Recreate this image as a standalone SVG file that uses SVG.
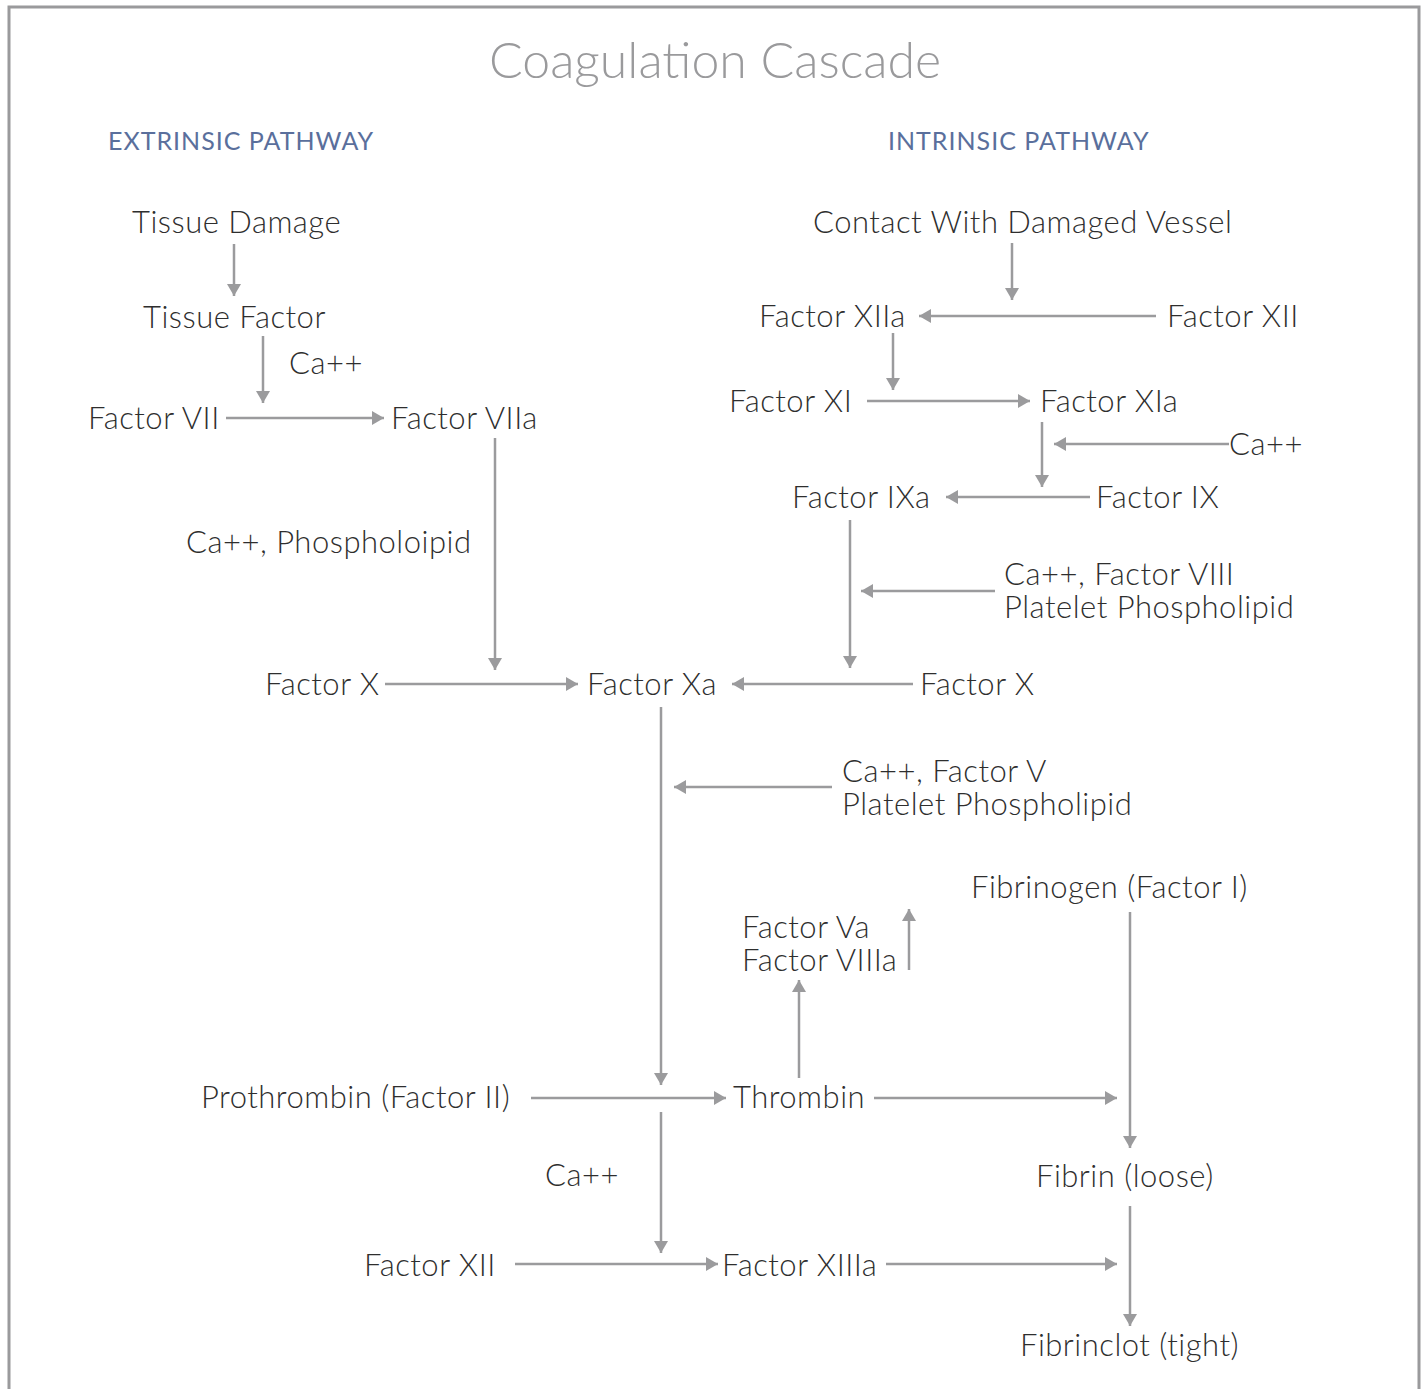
<svg xmlns="http://www.w3.org/2000/svg" width="1426" height="1389" viewBox="0 0 1426 1389">
<style>
.t{font-family:Lato,"Open Sans","Liberation Sans",sans-serif;font-weight:300;font-size:31px;letter-spacing:0.5px;fill:#2e2e2e}
.h{font-family:Lato,"Open Sans","Liberation Sans",sans-serif;font-size:25px;letter-spacing:1px;fill:#5a6f9c}
.title{font-family:Lato,"Open Sans","Liberation Sans",sans-serif;font-weight:300;font-size:50px;fill:#9a9a9c}
.c line{stroke:#9b9b9d;stroke-width:2.5;fill:none;marker-end:url(#ah)}
</style>
<defs>
<marker id="ah" markerUnits="userSpaceOnUse" markerWidth="14" markerHeight="16" refX="12" refY="7" orient="auto" viewBox="0 0 14 14">
<path d="M0,0 L12,7 L0,14 Z" fill="#9b9b9d"/>
</marker>
</defs>
<rect width="1426" height="1389" fill="#fff"/>
<path d="M9,1389 V7 H1419 V1389" fill="none" stroke="#9a9a9c" stroke-width="3"/>
<text class="title" x="715" y="78" text-anchor="middle">Coagulation Cascade</text>
<text class="h" x="108" y="150">EXTRINSIC PATHWAY</text>
<text class="h" x="888" y="150">INTRINSIC PATHWAY</text>

<g id="tissue-damage"><text class="t" x="132" y="233">Tissue Damage</text></g>
<g id="tissue-factor"><text class="t" x="143" y="328">Tissue Factor</text></g>
<g id="ca1"><text class="t" x="289" y="374">Ca++</text></g>
<g id="factor-vii"><text class="t" x="88" y="429">Factor VII</text></g>
<g id="factor-viia"><text class="t" x="391" y="429">Factor VIIa</text></g>
<g id="ca-phospho"><text class="t" x="186" y="553">Ca++, Phospholoipid</text></g>
<g id="factor-x-left"><text class="t" x="265" y="695">Factor X</text></g>
<g id="factor-xa"><text class="t" x="587" y="695">Factor Xa</text></g>
<g id="factor-x-right"><text class="t" x="920" y="695">Factor X</text></g>
<g id="contact"><text class="t" x="813" y="233">Contact With Damaged Vessel</text></g>
<g id="factor-xiia"><text class="t" x="759" y="327">Factor XIIa</text></g>
<g id="factor-xii-top"><text class="t" x="1167" y="327">Factor XII</text></g>
<g id="factor-xi"><text class="t" x="729" y="412">Factor XI</text></g>
<g id="factor-xia"><text class="t" x="1040" y="412">Factor XIa</text></g>
<g id="ca2"><text class="t" x="1229" y="455">Ca++</text></g>
<g id="factor-ixa"><text class="t" x="792" y="508">Factor IXa</text></g>
<g id="factor-ix"><text class="t" x="1096" y="508">Factor IX</text></g>
<g id="ca-viii"><text class="t" x="1004" y="585">Ca++, Factor VIII<tspan x="1004" dy="33">Platelet Phospholipid</tspan></text></g>
<g id="ca-v"><text class="t" x="842" y="782">Ca++, Factor V<tspan x="842" dy="33">Platelet Phospholipid</tspan></text></g>
<g id="fibrinogen"><text class="t" x="971" y="898">Fibrinogen (Factor I)</text></g>
<g id="factor-va"><text class="t" x="742" y="938">Factor Va<tspan x="742" dy="33">Factor VIIIa</tspan></text></g>
<g id="prothrombin"><text class="t" x="201" y="1108">Prothrombin (Factor II)</text></g>
<g id="thrombin"><text class="t" x="733" y="1108">Thrombin</text></g>
<g id="ca3"><text class="t" x="545" y="1186">Ca++</text></g>
<g id="fibrin-loose"><text class="t" x="1036" y="1187">Fibrin (loose)</text></g>
<g id="factor-xii-bottom"><text class="t" x="364" y="1276">Factor XII</text></g>
<g id="factor-xiiia"><text class="t" x="722" y="1276">Factor XIIIa</text></g>
<g id="fibrinclot"><text class="t" x="1020" y="1356">Fibrinclot (tight)</text></g>

<g id="connectors" class="c">
<line x1="234" y1="244" x2="234" y2="296"/>
<line x1="263" y1="336" x2="263" y2="403"/>
<line x1="226" y1="418" x2="384" y2="418"/>
<line x1="495" y1="438" x2="495" y2="670"/>
<line x1="385" y1="684" x2="578" y2="684"/>
<line x1="913" y1="684" x2="732" y2="684"/>
<line x1="850" y1="520" x2="850" y2="668"/>
<line x1="995" y1="591" x2="861" y2="591"/>
<line x1="1012" y1="243" x2="1012" y2="300"/>
<line x1="1156" y1="316" x2="919" y2="316"/>
<line x1="893" y1="333" x2="893" y2="390"/>
<line x1="867" y1="401" x2="1030" y2="401"/>
<line x1="1042" y1="422" x2="1042" y2="487"/>
<line x1="1229" y1="444" x2="1054" y2="444"/>
<line x1="1090" y1="497" x2="946" y2="497"/>
<line x1="661" y1="707" x2="661" y2="1085"/>
<line x1="832" y1="787" x2="674" y2="787"/>
<line x1="909" y1="970" x2="909" y2="909"/>
<line x1="799" y1="1078" x2="799" y2="980"/>
<line x1="531" y1="1098" x2="726" y2="1098"/>
<line x1="874" y1="1098" x2="1117" y2="1098"/>
<line x1="1130" y1="912" x2="1130" y2="1148"/>
<line x1="661" y1="1112" x2="661" y2="1253"/>
<line x1="515" y1="1264" x2="718" y2="1264"/>
<line x1="886" y1="1264" x2="1117" y2="1264"/>
<line x1="1130" y1="1206" x2="1130" y2="1326"/>
</g>
</svg>
